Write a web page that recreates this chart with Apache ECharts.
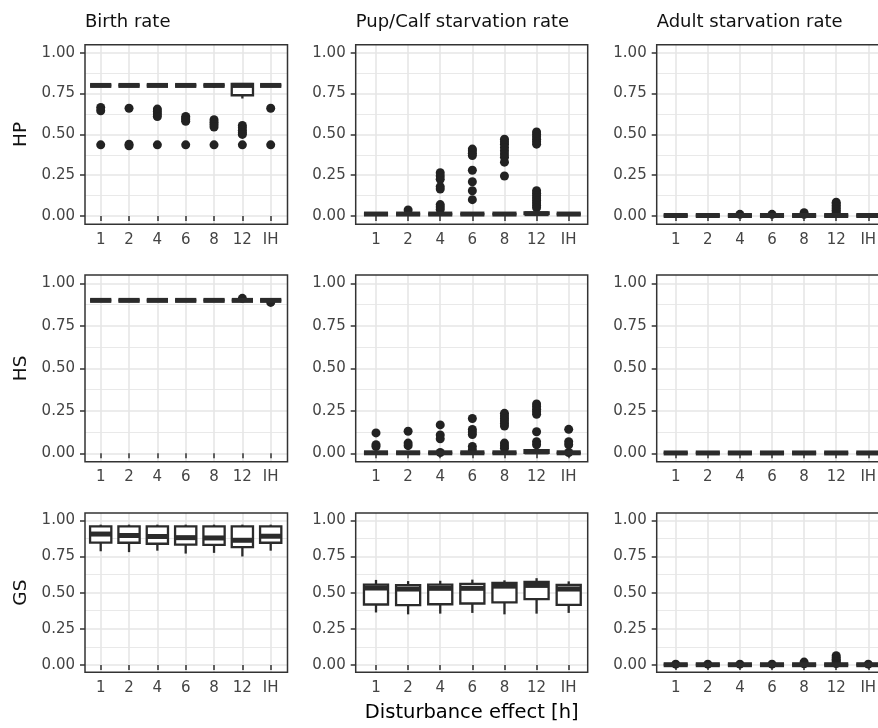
<!DOCTYPE html>
<html>
<head>
<meta charset="utf-8">
<script src="https://cdn.jsdelivr.net/npm/echarts@6/dist/echarts.min.js"></script>
<style>
html,body{margin:0;padding:0;background:#ffffff;}
#chart{width:878px;height:728px;}
</style>
</head>
<body>
<div id="chart"></div>
<script>
// ---------------- data ----------------
const categories = ['1', '2', '4', '6', '8', '12', 'IH'];
const facetTitles = ['Birth rate', 'Pup/Calf starvation rate', 'Adult starvation rate'];
const rowLabels = ['HP', 'HS', 'GS'];
const yTickValues = [0, 0.25, 0.5, 0.75, 1];
const xAxisTitle = 'Disturbance effect [h]';

// box statistics per category: [lower whisker, Q1, median, Q3, upper whisker]
const birthHP = [
  [0.80, 0.80, 0.80, 0.80, 0.80], [0.80, 0.80, 0.80, 0.80, 0.80], [0.80, 0.80, 0.80, 0.80, 0.80],
  [0.80, 0.80, 0.80, 0.80, 0.80], [0.785, 0.80, 0.80, 0.80, 0.80], [0.72, 0.74, 0.80, 0.81, 0.81],
  [0.80, 0.80, 0.80, 0.80, 0.80]
];
const birthHPOutliers = [
  [0.665, 0.645, 0.436], [0.66, 0.44, 0.43], [0.655, 0.64, 0.625, 0.61, 0.436],
  [0.61, 0.60, 0.59, 0.58, 0.436], [0.59, 0.575, 0.56, 0.545, 0.436],
  [0.555, 0.54, 0.525, 0.51, 0.50, 0.436], [0.66, 0.436]
];
const pupHP = [
  [0.012, 0.012, 0.012, 0.012, 0.012], [0.012, 0.012, 0.012, 0.012, 0.012], [0.012, 0.012, 0.012, 0.012, 0.012],
  [0.012, 0.012, 0.012, 0.012, 0.012], [0.012, 0.012, 0.012, 0.012, 0.012], [0.012, 0.012, 0.014, 0.022, 0.022],
  [0.012, 0.012, 0.012, 0.012, 0.012]
];
const pupHPOutliers = [
  [], [0.037], [0.265, 0.245, 0.225, 0.18, 0.165, 0.07, 0.055, 0.04],
  [0.41, 0.40, 0.385, 0.37, 0.28, 0.21, 0.155, 0.10],
  [0.47, 0.455, 0.44, 0.42, 0.40, 0.38, 0.36, 0.33, 0.245],
  [0.515, 0.50, 0.485, 0.47, 0.455, 0.44, 0.155, 0.14, 0.125, 0.11, 0.095, 0.08, 0.065, 0.05],
  []
];
const adultHP = [
  [0.003, 0.003, 0.003, 0.003, 0.003], [0.003, 0.003, 0.003, 0.003, 0.003], [0.003, 0.003, 0.003, 0.003, 0.003],
  [0.003, 0.003, 0.003, 0.003, 0.003], [0.003, 0.003, 0.003, 0.003, 0.003], [0.003, 0.003, 0.003, 0.003, 0.003],
  [0.003, 0.003, 0.003, 0.003, 0.003]
];
const adultHPOutliers = [
  [], [], [0.01], [0.01], [0.02, 0.01],
  [0.085, 0.075, 0.065, 0.055, 0.045, 0.035, 0.025, 0.015], []
];
const birthHS = [
  [0.90, 0.90, 0.90, 0.90, 0.90], [0.90, 0.90, 0.90, 0.90, 0.90], [0.90, 0.90, 0.90, 0.90, 0.90],
  [0.90, 0.90, 0.90, 0.90, 0.90], [0.90, 0.90, 0.90, 0.90, 0.90], [0.90, 0.90, 0.90, 0.90, 0.90],
  [0.90, 0.90, 0.90, 0.90, 0.90]
];
const birthHSOutliers = [[], [], [], [], [], [0.912], [0.888]];
const pupHS = [
  [0.003, 0.003, 0.003, 0.003, 0.003], [0.003, 0.003, 0.003, 0.003, 0.003], [0.003, 0.003, 0.003, 0.003, 0.003],
  [0.003, 0.003, 0.003, 0.003, 0.003], [0.003, 0.003, 0.003, 0.003, 0.003], [0.002, 0.003, 0.008, 0.018, 0.02],
  [0.003, 0.003, 0.003, 0.003, 0.003]
];
const pupHSOutliers = [
  [0.12, 0.05, 0.04], [0.13, 0.06, 0.045], [0.167, 0.108, 0.085, 0.005],
  [0.205, 0.14, 0.125, 0.11, 0.04, 0.02],
  [0.235, 0.22, 0.205, 0.19, 0.175, 0.16, 0.06, 0.045, 0.03],
  [0.29, 0.275, 0.26, 0.245, 0.23, 0.127, 0.068, 0.05],
  [0.141, 0.068, 0.05, 0.005]
];
const adultHS = [
  [0.002, 0.002, 0.002, 0.002, 0.002], [0.002, 0.002, 0.002, 0.002, 0.002], [0.002, 0.002, 0.002, 0.002, 0.002],
  [0.002, 0.002, 0.002, 0.002, 0.002], [0.002, 0.002, 0.002, 0.002, 0.002], [0.002, 0.002, 0.002, 0.002, 0.002],
  [0.002, 0.002, 0.002, 0.002, 0.002]
];
const adultHSOutliers = [[], [], [], [], [], [], []];
const birthGS = [
  [0.786, 0.846, 0.905, 0.958, 0.97], [0.78, 0.845, 0.895, 0.958, 0.97], [0.79, 0.838, 0.888, 0.958, 0.97],
  [0.77, 0.832, 0.88, 0.958, 0.97], [0.775, 0.83, 0.878, 0.958, 0.97], [0.75, 0.815, 0.862, 0.958, 0.97],
  [0.79, 0.845, 0.89, 0.958, 0.97]
];
const birthGSOutliers = [[], [], [], [], [], [], []];
const pupGS = [
  [0.363, 0.418, 0.532, 0.556, 0.588], [0.35, 0.414, 0.525, 0.552, 0.58], [0.355, 0.42, 0.53, 0.556, 0.582],
  [0.36, 0.425, 0.53, 0.56, 0.59], [0.35, 0.433, 0.545, 0.568, 0.585], [0.355, 0.455, 0.55, 0.574, 0.60],
  [0.36, 0.415, 0.525, 0.553, 0.578]
];
const pupGSOutliers = [[], [], [], [], [], [], []];
const adultGS = [
  [0.002, 0.002, 0.002, 0.002, 0.002], [0.002, 0.002, 0.002, 0.002, 0.002], [0.002, 0.002, 0.002, 0.002, 0.002],
  [0.002, 0.002, 0.002, 0.002, 0.002], [0.002, 0.002, 0.002, 0.002, 0.002], [0.002, 0.002, 0.002, 0.002, 0.002],
  [0.002, 0.002, 0.002, 0.002, 0.002]
];
const adultGSOutliers = [
  [0.006], [0.006], [0.006], [0.006], [0.02, 0.008],
  [0.064, 0.05, 0.04, 0.03, 0.02, 0.01], [0.006]
];

// ---------------- layout (pixels) ----------------
const panelData = [
  [[birthHP, birthHPOutliers], [pupHP, pupHPOutliers], [adultHP, adultHPOutliers]],
  [[birthHS, birthHSOutliers], [pupHS, pupHSOutliers], [adultHS, adultHSOutliers]],
  [[birthGS, birthGSOutliers], [pupGS, pupGSOutliers], [adultGS, adultGSOutliers]]
];
// L/R: panel edges, x1/x7: first/last category position
const colLayout = [
  { L: 85, R: 287.5, x1: 100.7, x7: 270.7 },
  { L: 355.7, R: 587.7, x1: 376, x7: 568.7 },
  { L: 656.7, R: 887.3, x1: 675.7, x7: 868.3 }
];
// y1: pixel of value 1.00, y0: pixel of value 0.00
const rowLayout = [
  { y1: 52.8, y0: 216 },
  { y1: 283.4, y0: 453.3 },
  { y1: 520.3, y0: 665 }
];

const FONT = 'DejaVu Sans, Liberation Sans, Arial, sans-serif';
const BOX_COLOR = '#2b2b2b';
const GRID_COLOR = '#e6e6e6';
const BOX_WIDTH = 0.75;

function renderBox(params, api) {
  const x = api.value(0);
  const lo = api.coord([x, api.value(1)]);
  const q1 = api.coord([x, api.value(2)]);
  const med = api.coord([x, api.value(3)]);
  const q3 = api.coord([x, api.value(4)]);
  const hi = api.coord([x, api.value(5)]);
  const half = api.size([BOX_WIDTH, 0])[0] / 2;
  const cx = med[0];
  return {
    type: 'group',
    children: [
      { type: 'line', shape: { x1: cx, y1: hi[1], x2: cx, y2: q3[1] }, style: { stroke: BOX_COLOR, lineWidth: 2.3 } },
      { type: 'line', shape: { x1: cx, y1: q1[1], x2: cx, y2: lo[1] }, style: { stroke: BOX_COLOR, lineWidth: 2.3 } },
      { type: 'rect', shape: { x: cx - half, y: q3[1], width: 2 * half, height: q1[1] - q3[1] },
        style: { fill: '#ffffff', stroke: BOX_COLOR, lineWidth: 2.3 } },
      { type: 'line', shape: { x1: cx - half, y1: med[1], x2: cx + half, y2: med[1] },
        style: { stroke: BOX_COLOR, lineWidth: 5 } }
    ]
  };
}

const grids = [], xAxes = [], yAxes = [], series = [], graphics = [];
const yMin = yTickValues[0], yMax = yTickValues[yTickValues.length - 1];
const yStep = yTickValues[1] - yTickValues[0];

rowLayout.forEach((rl, r) => {
  const h = rl.y0 - rl.y1;
  const T = rl.y1 - 0.05 * h, B = rl.y0 + 0.05 * h;
  colLayout.forEach((cl, c) => {
    const [boxes, outliers] = panelData[r][c];
    // frame
    const gF = grids.length;
    grids.push({ left: cl.L, top: T, width: cl.R - cl.L, height: B - T, show: true,
      backgroundColor: 'transparent', borderColor: '#333333', borderWidth: 1.5, z: 10,
      containLabel: false, outerBoundsMode: 'none' });
    xAxes.push({ type: 'value', gridIndex: gF, show: false, min: 0, max: 1 });
    yAxes.push({ type: 'value', gridIndex: gF, show: false, min: 0, max: 1 });
    // horizontal grid + y axis
    const gH = grids.length;
    grids.push({ left: cl.L, top: rl.y1, width: cl.R - cl.L, height: h, show: false,
      containLabel: false, outerBoundsMode: 'none' });
    xAxes.push({ type: 'value', gridIndex: gH, show: false, min: 0, max: 1 });
    yAxes.push({ type: 'value', gridIndex: gH, min: yMin, max: yMax, interval: yStep,
      axisLine: { show: false },
      axisTick: { show: true, length: 5, lineStyle: { color: '#333333', width: 1.5 } },
      axisLabel: { margin: 10, fontSize: 15, color: '#444444', fontFamily: FONT,
        formatter: v => v.toFixed(2) },
      splitLine: { show: true, lineStyle: { color: GRID_COLOR, width: 1.6 } },
      minorTick: { show: false, splitNumber: 2 },
      minorSplitLine: { show: true, lineStyle: { color: GRID_COLOR, width: 0.9 } } });
    // data grid + x axis
    const gV = grids.length;
    grids.push({ left: cl.x1, top: T, width: cl.x7 - cl.x1, height: B - T, show: false,
      containLabel: false, outerBoundsMode: 'none' });
    xAxes.push({ type: 'value', gridIndex: gV, min: 1, max: categories.length, interval: 1,
      axisLine: { show: false },
      axisTick: { show: true, length: 5, lineStyle: { color: '#333333', width: 1.5 } },
      axisLabel: { margin: 8, fontSize: 15, color: '#444444', fontFamily: FONT,
        formatter: v => categories[Math.round(v) - 1] || '' },
      splitLine: { show: true, lineStyle: { color: GRID_COLOR, width: 1.6 } } });
    yAxes.push({ type: 'value', gridIndex: gV, show: false, min: -0.05, max: 1.05 });

    series.push({ type: 'scatter', xAxisIndex: gV, yAxisIndex: gV, silent: true, clip: false, z: 2,
      symbol: 'circle', symbolSize: 9, itemStyle: { color: '#222222', opacity: 1 },
      data: outliers.flatMap((vals, i) => vals.map(v => [i + 1, v])) });
    series.push({ type: 'custom', xAxisIndex: gV, yAxisIndex: gV, silent: true, clip: false, z: 3,
      renderItem: renderBox, encode: { x: 0, y: [1, 2, 3, 4, 5] },
      data: boxes.map((b, i) => [i + 1].concat(b)) });
  });
  graphics.push({ type: 'text', x: 21.5, y: (T + B) / 2, rotation: Math.PI / 2,
    style: { text: rowLabels[r], fontSize: 18.5, fontFamily: FONT, fill: '#111111',
      align: 'center', verticalAlign: 'middle' } });
});

facetTitles.forEach((t, c) => {
  graphics.push({ type: 'text', x: colLayout[c].L, y: 22,
    style: { text: t, fontSize: 18, fontFamily: FONT, fill: '#111111', align: 'left', verticalAlign: 'middle' } });
});
graphics.push({ type: 'text', x: (colLayout[1].L + colLayout[1].R) / 2, y: 713,
  style: { text: xAxisTitle, fontSize: 19.5, fontFamily: FONT, fill: '#000000', align: 'center', verticalAlign: 'middle' } });

const chart = echarts.init(document.getElementById('chart'), null, { renderer: 'canvas' });
chart.setOption({
  backgroundColor: '#ffffff',
  animation: false,
  grid: grids,
  xAxis: xAxes,
  yAxis: yAxes,
  series: series,
  graphic: graphics
});
</script>
</body>
</html>
